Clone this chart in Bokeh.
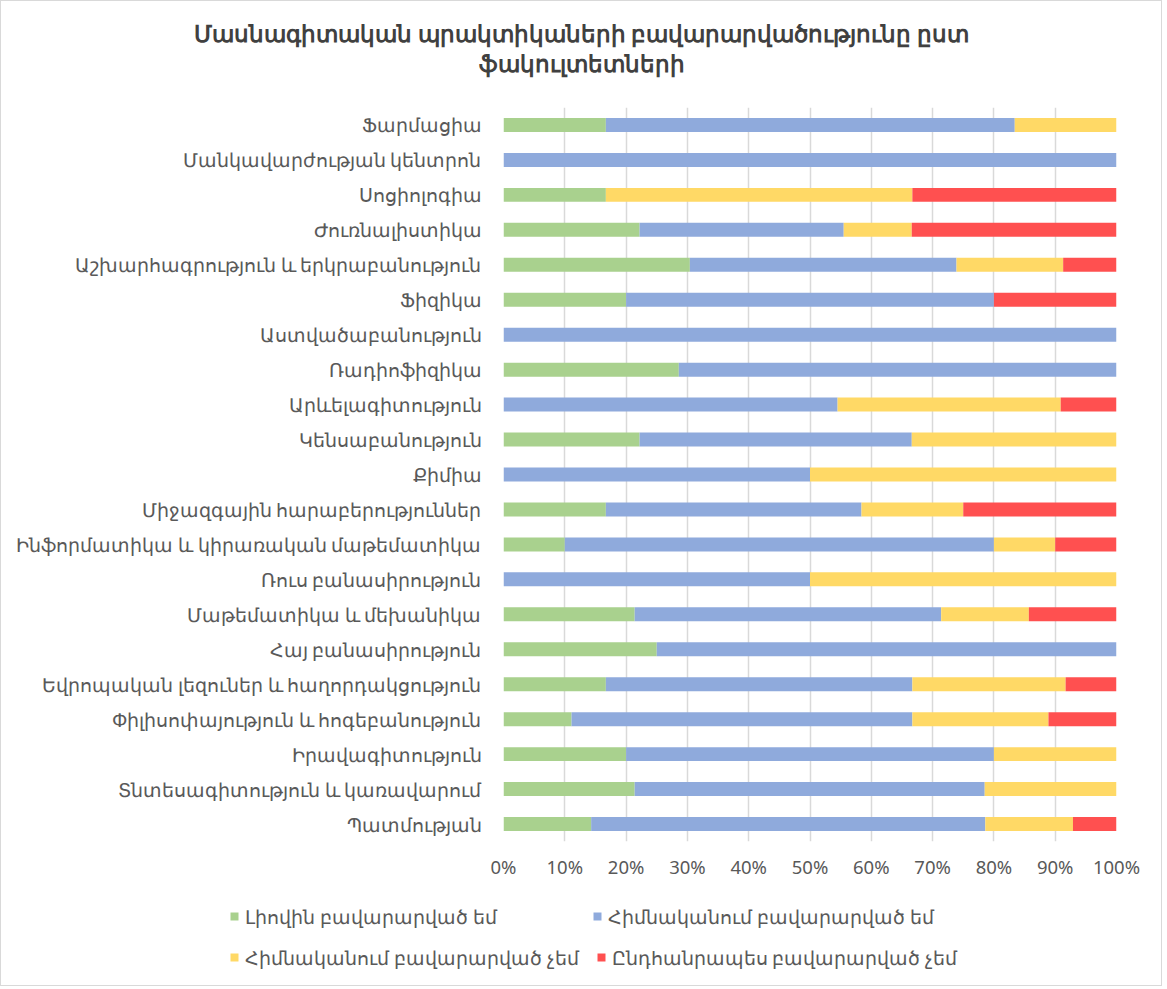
from bokeh.plotting import figure
from bokeh.layouts import column
from bokeh.models import FactorRange, Legend, LegendItem, FixedTicker, PrintfTickFormatter, Range1d, ColumnDataSource
from bokeh.core.properties import value
from bokeh.embed import file_html
from bokeh.resources import INLINE

categories = [
    "Ֆարմացիա",
    "Մանկավարժության կենտրոն",
    "Սոցիոլոգիա",
    "Ժուռնալիստիկա",
    "Աշխարհագրություն և երկրաբանություն",
    "Ֆիզիկա",
    "Աստվածաբանություն",
    "Ռադիոֆիզիկա",
    "Արևելագիտություն",
    "Կենսաբանություն",
    "Քիմիա",
    "Միջազգային հարաբերություններ",
    "Ինֆորմատիկա և կիրառական մաթեմատիկա",
    "Ռուս բանասիրություն",
    "Մաթեմատիկա և մեխանիկա",
    "Հայ բանասիրություն",
    "Եվրոպական լեզուներ և հաղորդակցություն",
    "Փիլիսոփայություն և հոգեբանություն",
    "Իրավագիտություն",
    "Տնտեսագիտություն և կառավարում",
    "Պատմության",
]

series_names = [
    "Լիովին բավարարված եմ",
    "Հիմնականում բավարարված եմ",
    "Հիմնականում բավարարված չեմ",
    "Ընդհանրապես բավարարված չեմ",
]

fully = [16.7, 0, 16.7, 22.2, 30.4, 20, 0, 28.6, 0, 22.2, 0, 16.7, 10, 0, 21.4, 25, 16.7, 11.1, 20, 21.4, 14.3]
mostly = [66.7, 100, 0, 33.3, 43.5, 60, 100, 71.4, 54.5, 44.4, 50, 41.7, 70, 50, 50, 75, 50, 55.6, 60, 57.1, 64.3]
mostly_not = [16.6, 0, 50, 11.1, 17.4, 0, 0, 0, 36.4, 33.4, 50, 16.6, 10, 50, 14.3, 0, 25, 22.2, 20, 21.5, 14.3]
not_at_all = [0, 0, 33.3, 33.4, 8.7, 20, 0, 0, 9.1, 0, 0, 25, 10, 0, 14.3, 0, 8.3, 11.1, 0, 0, 7.1]

tick_values = [0, 10, 20, 30, 40, 50, 60, 70, 80, 90, 100]

title_lines = ["Մասնագիտական պրակտիկաների բավարարվածությունը ըստ", "ֆակուլտետների"]

colors = ["#A9D18E", "#8FAADC", "#FFD966", "#FF5050"]
keys = ["s0", "s1", "s2", "s3"]
FONT = "Noto Sans"
TXT = "#595959"
NAN = float("nan")

W = 1160
TITLE_H = 98
MAIN_H = 782
LEG_H = 104

# ---------- title ----------
tf = figure(width=W, height=TITLE_H, x_range=Range1d(0, 1), y_range=Range1d(0, TITLE_H),
            output_backend="svg", toolbar_location=None,
            min_border_left=0, min_border_right=0, min_border_top=0, min_border_bottom=0,
            x_axis_type=None, y_axis_type=None)
tf.grid.visible = False
tf.outline_line_color = None
tsrc = ColumnDataSource(dict(x=[0.5, 0.5], y=[TITLE_H - 31, TITLE_H - 61], t=title_lines))
tf.text(x="x", y="y", text="t", source=tsrc, text_align="center", text_baseline="middle",
        text_font=value(FONT), text_font_size="23px", text_font_style="bold", text_color="#404040")

# ---------- main chart ----------
data = {"cat": categories, "s0": fully, "s1": mostly, "s2": mostly_not, "s3": not_at_all}

p = figure(
    y_range=FactorRange(factors=list(reversed(categories))),
    x_range=Range1d(0, 100),
    width=W, height=MAIN_H,
    output_backend="svg", toolbar_location=None,
    min_border_left=502, min_border_right=W - 1115, min_border_top=8, min_border_bottom=40,
)

renderers = p.hbar_stack(keys, y="cat", height=0.4, color=colors, source=data, line_color=None)

p.xaxis.ticker = FixedTicker(ticks=tick_values)
p.xaxis.formatter = PrintfTickFormatter(format="%d%%")
p.xaxis.axis_line_color = None
p.xaxis.major_tick_line_color = None
p.xaxis.minor_tick_line_color = None
p.xaxis.major_label_text_font = FONT
p.xaxis.major_label_text_font_size = "18.5px"
p.xaxis.major_label_text_color = TXT
p.xaxis.major_label_standoff = 6

p.yaxis.axis_line_color = None
p.yaxis.major_tick_line_color = None
p.yaxis.minor_tick_line_color = None
p.yaxis.major_label_text_font = FONT
p.yaxis.major_label_text_font_size = "18.5px"
p.yaxis.major_label_text_color = TXT
p.yaxis.major_label_standoff = 16

p.xgrid.grid_line_color = "#D9D9D9"
p.xgrid.grid_line_width = 1.5
p.ygrid.grid_line_color = None
p.outline_line_color = None

# ---------- legend ----------
lf = figure(width=W, height=LEG_H, x_range=Range1d(0, 1), y_range=Range1d(0, 1),
            output_backend="svg", toolbar_location=None,
            min_border_left=0, min_border_right=0, min_border_top=0, min_border_bottom=0,
            x_axis_type=None, y_axis_type=None)
lf.grid.visible = False
lf.outline_line_color = None
proxies = []
for c in colors:
    proxies.append(lf.quad(left=[NAN], right=[NAN], top=[NAN], bottom=[NAN], fill_color=c, line_color=None))

legend_style = dict(
    orientation="horizontal",
    label_text_font=FONT, label_text_font_size="18.5px", label_text_color=TXT,
    glyph_width=10, glyph_height=10, label_standoff=6, label_height=26, label_width=330,
    spacing=17, padding=0, margin=0, border_line_color=None, background_fill_alpha=0,
)
legend_top = Legend(
    items=[LegendItem(label=series_names[i], renderers=[proxies[i]]) for i in (0, 1)],
    location=(228, 56), **legend_style,
)
legend_bottom = Legend(
    items=[LegendItem(label=series_names[i], renderers=[proxies[i]]) for i in (2, 3)],
    location=(228, 15), **legend_style,
)
lf.add_layout(legend_top, "center")
lf.add_layout(legend_bottom, "center")

layout = column(column(tf), column(p), column(lf), spacing=0)
layout.styles = {"border": "1px solid #D9D9D9"}

open("out.html", "w").write(file_html(layout, INLINE))
